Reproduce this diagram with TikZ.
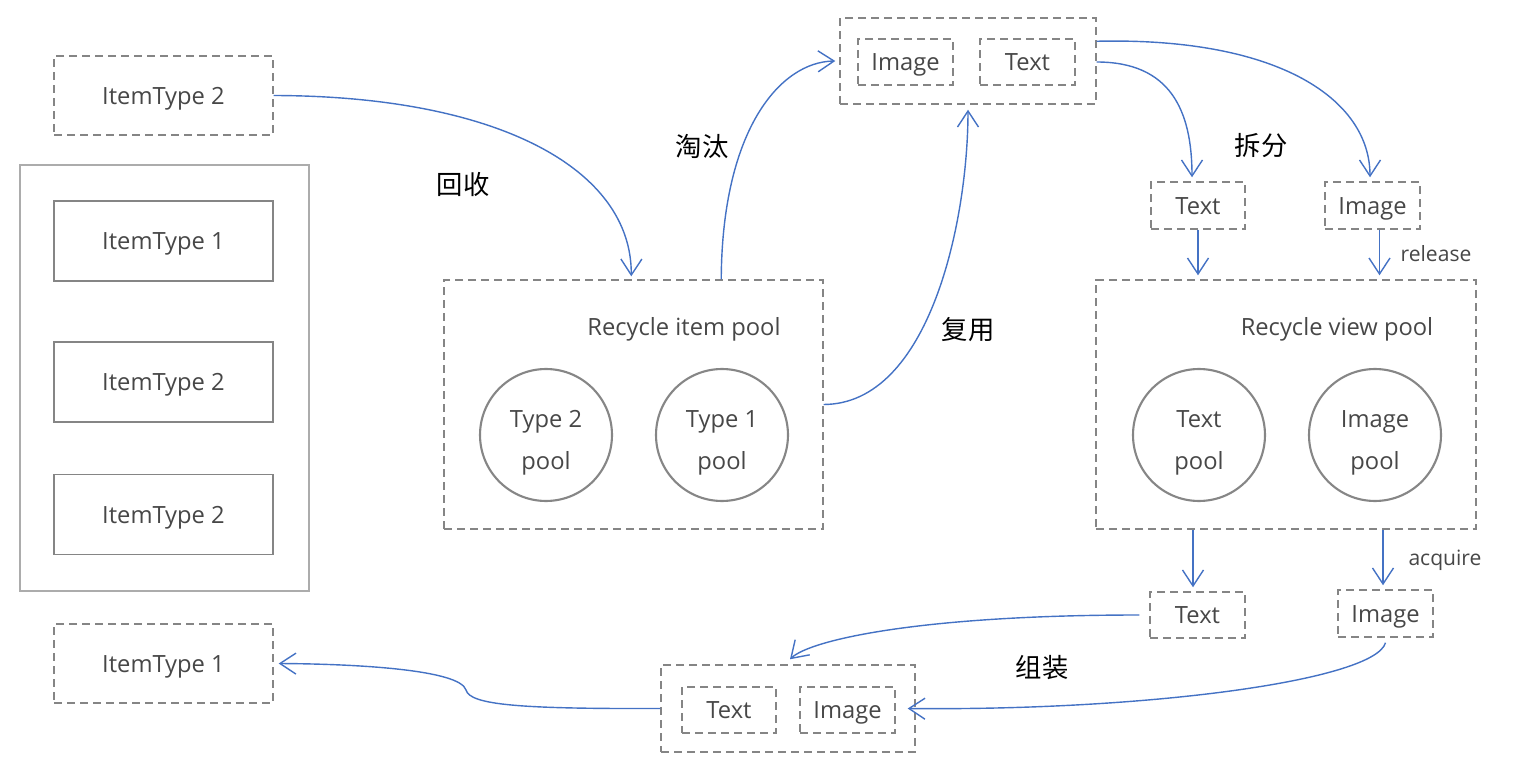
\documentclass[tikz,border=0pt]{standalone}
\usepackage{fontspec}
\setmainfont{Open Sans}
\newfontfamily\cjk{Noto Sans CJK SC}
\usetikzlibrary{positioning, arrows.meta}
\definecolor{flowblue}{HTML}{4472C4}
\definecolor{linegray}{HTML}{858585}
\definecolor{textgray}{HTML}{474747}
\newcommand{\flowarrow}{-{Straight Barb[length=3.2mm,width=4.2mm]}}
\newcommand{\boxfont}{\fontsize{13.5}{24}\selectfont}
\newcommand{\poolname}[1]{\raisebox{-0.22cm}[0pt][0pt]{\begin{tabular}{@{}c@{}}#1\end{tabular}}}
\tikzset{
  dashbox/.style={draw=linegray, line width=0.85pt, dash pattern=on 0.16cm off 0.1cm, text=textgray, font=\boxfont, text height=0.46cm, text depth=0.11cm},
  solidbox/.style={draw=linegray, line width=1pt, text=textgray, font=\boxfont, text height=0.46cm, text depth=0.11cm, minimum width=4.38cm, minimum height=1.6cm},
  poolcircle/.style={circle, draw=gray!95, line width=1.2pt, minimum size=2.64cm, align=center, text=textgray, font=\boxfont},
  cjklabel/.style={font=\cjk\fontsize{15}{18}\selectfont, text=black},
  smalllabel/.style={font=\fontsize{12}{14}\selectfont, text=textgray},
  flow/.style={draw=flowblue, line width=0.8pt}
}

\begin{document}
\begin{tikzpicture}[x=0.02cm, y=-0.02cm]
    \useasboundingbox (0,0) rectangle (1516,777);
    % left column
    \node[dashbox, minimum width=4.38cm, minimum height=1.58cm] (it2top) at (163.5,95.5) {ItemType 2};
    \node[draw=gray!65, line width=1pt, minimum width=5.78cm, minimum height=8.52cm] (list) at (164.5,378) {};
    \node[solidbox] (rowone) at (163.5,241) {ItemType 1};
    \node[solidbox] (rowtwo) at (163.5,382) {ItemType 2};
    \node[solidbox] (rowthree) at (163.5,514.5) {ItemType 2};
    \node[dashbox, minimum width=4.38cm, minimum height=1.58cm] (it1bot) at (163.5,663.5) {ItemType 1};

    % item pool
    \node[dashbox, minimum width=7.58cm, minimum height=4.98cm] (ipool) at (633.5,404.5) {};
    \node[text=textgray, font=\boxfont] (ipoollabel) at (684,329) {Recycle item pool};
    \node[poolcircle] (typetwo) at (546,435) {\poolname{Type 2\\pool}};
    \node[poolcircle] (typeone) at (722,435) {\poolname{Type 1\\pool}};

    % whole item on top
    \node[dashbox, minimum width=5.12cm, minimum height=1.72cm] (topbox) at (968,61) {};
    \node[dashbox, minimum width=1.9cm, minimum height=0.92cm] (topimg) at (905.5,62) {Image};
    \node[dashbox, minimum width=1.9cm, minimum height=0.92cm] (toptxt) at (1027.5,62) {Text};

    % split views
    \node[dashbox, minimum width=1.88cm, minimum height=0.94cm] (splittxt) at (1198,205.5) {Text};
    \node[dashbox, minimum width=1.9cm, minimum height=0.94cm] (splitimg) at (1372.5,205.5) {Image};

    % view pool
    \node[dashbox, minimum width=7.6cm, minimum height=4.98cm] (vpool) at (1286,404.5) {};
    \node[text=textgray, font=\boxfont] (vpoollabel) at (1337,329) {Recycle view pool};
    \node[poolcircle] (textpool) at (1199,435) {\poolname{Text\\pool}};
    \node[poolcircle] (imagepool) at (1375,435) {\poolname{Image\\pool}};

    % acquired views
    \node[dashbox, minimum width=1.9cm, minimum height=0.92cm] (gettxt) at (1197.5,615) {Text};
    \node[dashbox, minimum width=1.9cm, minimum height=0.94cm] (getimg) at (1385.5,613.5) {Image};

    % assembled item
    \node[dashbox, minimum width=5.08cm, minimum height=1.74cm] (botbox) at (788,708.5) {};
    \node[dashbox, minimum width=1.88cm, minimum height=0.92cm] (bottxt) at (729,710) {Text};
    \node[dashbox, minimum width=1.9cm, minimum height=0.92cm] (botimg) at (847.5,710) {Image};

    % labels
    \node[cjklabel] (recyclelabel) at (463,184) {回收};
    \node[cjklabel] (droplabel) at (702,146) {淘汰};
    \node[cjklabel] (reuselabel) at (968,330) {复用};
    \node[cjklabel] (splitlabel) at (1261,146) {拆分};
    \node[cjklabel] (joinlabel) at (1042,668) {组装};
    \node[smalllabel] (releaselabel) at (1436,254) {release};
    \node[smalllabel] (acquirelabel) at (1445,560) {acquire};

    % connectors
    \draw[flow, \flowarrow] (it2top.east) .. controls (500,96) and (632,170) .. ([xshift=3.76cm, yshift=0.06cm]ipool.north west);
    \draw[flow, \flowarrow] ([xshift=5.56cm]ipool.north west) .. controls (722,130) and (780,62) .. ([xshift=-0.08cm]topbox.west);
    \draw[flow, \flowarrow] (ipool.east) .. controls (930,404) and (968,220) .. ([yshift=-0.1cm]topbox.south);
    \draw[flow, \flowarrow] ([yshift=-0.02cm]topbox.east) .. controls (1170,62) and (1192,110) .. ([xshift=-0.12cm, yshift=0.08cm]splittxt.north);
    \draw[flow, \flowarrow] ([yshift=-0.48cm]topbox.north east) .. controls (1280,37) and (1370,100) .. ([xshift=-0.05cm, yshift=0.08cm]splitimg.north);
    \draw[flow, \flowarrow] (splittxt.south) -- ([yshift=0.08cm]splittxt.south |- vpool.north);
    \draw[flow, \flowarrow] ([xshift=0.14cm]splitimg.south) -- ([yshift=0.08cm, xshift=0.14cm]splitimg.south |- vpool.north);
    \draw[flow, \flowarrow] ([xshift=-0.09cm]gettxt.north |- vpool.south) -- ([xshift=-0.09cm, yshift=0.08cm]gettxt.north);
    \draw[flow, \flowarrow] ([xshift=-0.05cm]getimg.north |- vpool.south) -- ([xshift=-0.05cm, yshift=0.08cm]getimg.north);
    \draw[flow, \flowarrow, shorten <=0.2cm] (gettxt.west) .. controls (920,615) and (810,640) .. ([xshift=0.04cm, yshift=0.1cm]botbox.north);
    \draw[flow, \flowarrow] ([yshift=-0.1cm]getimg.south) .. controls (1375,680) and (1150,711) .. ([xshift=-0.16cm]botbox.east);
    \draw[flow, \flowarrow] (botbox.west) .. controls (520,709) and (470,705) .. (466,690)
        .. controls (460,670) and (360,664) .. ([xshift=0.1cm]it1bot.east);
\end{tikzpicture}
\end{document}
